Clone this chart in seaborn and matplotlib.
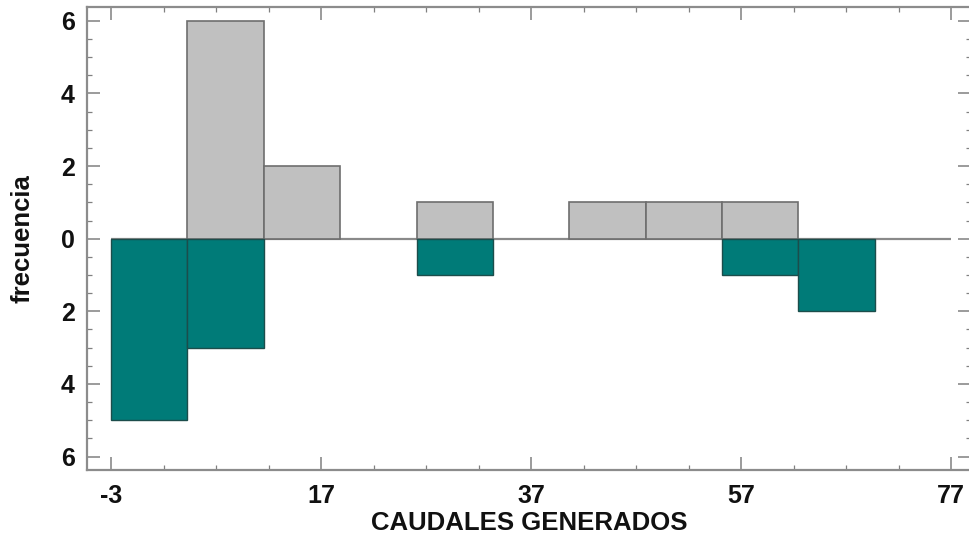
import numpy as np
import pandas as pd
import matplotlib
matplotlib.use("Agg")
import matplotlib.pyplot as plt
from matplotlib.ticker import MultipleLocator, FixedLocator
import seaborn as sns

# ---- data ----
x_min, x_max, n_bins = -3, 77, 11              # 11 bins from -3 to 77
upper_counts = [0, 6, 2, 0, 1, 0, 1, 1, 1, 0, 0]   # grey (above)
lower_counts = [5, 3, 0, 0, 1, 0, 0, 0, 1, 2, 0]   # teal (below)
x_ticks = [-3, 17, 37, 57, 77]
y_ticks = [-6, -4, -2, 0, 2, 4, 6]
y_tick_labels = ["6", "4", "2", "0", "2", "4", "6"]
x_label = "CAUDALES GENERADOS"
y_label = "frecuencia"

bin_edges = np.linspace(x_min, x_max, n_bins + 1)
centers = (bin_edges[:-1] + bin_edges[1:]) / 2
df_up = pd.DataFrame({"x": centers, "w": np.array(upper_counts, dtype=float)})
df_lo = pd.DataFrame({"x": centers, "w": -np.array(lower_counts, dtype=float)})

sns.set_theme(style="white")
plt.rcParams["font.family"] = ["Liberation Sans", "DejaVu Sans"]
plt.rcParams["font.weight"] = "bold"

W, H = 969, 544
fig = plt.figure(figsize=(W / 100, H / 100), dpi=100)
ax = fig.add_axes([87 / W, 1 - 470 / H, (971 - 87) / W, (470 - 7) / H])

grey_fill = "#c0c0c0"
grey_edge = "#6e6e6e"
teal = "#007b78"

sns.histplot(data=df_up, x="x", weights="w", bins=n_bins, binrange=(x_min, x_max),
             ax=ax, color=grey_fill, edgecolor=grey_edge, linewidth=1.2, alpha=1)
sns.histplot(data=df_lo, x="x", weights="w", bins=n_bins, binrange=(x_min, x_max),
             ax=ax, color=teal, edgecolor="#1c4d4b", linewidth=1.0, alpha=1)

# hide zero-height bars
for p in ax.patches:
    if abs(p.get_height()) < 1e-9:
        p.set_visible(False)

ax.hlines(0, bin_edges[0], bin_edges[-1], color="#8a8a8a", lw=1.6, zorder=0.5)

ax.set_xlim(-5.29, 78.9)
ax.set_ylim(-6.37, 6.38)

ax.xaxis.set_major_locator(FixedLocator(x_ticks))
ax.xaxis.set_minor_locator(MultipleLocator(5, offset=2))
ax.yaxis.set_major_locator(FixedLocator(y_ticks))
ax.yaxis.set_minor_locator(MultipleLocator(0.5))
ax.set_xticklabels([str(v) for v in x_ticks])
ax.set_yticklabels(y_tick_labels)

spine_col = "#8c8c8c"
for s in ax.spines.values():
    s.set_color(spine_col)
    s.set_linewidth(1.6)
    s.set_visible(True)

ax.tick_params(which="both", direction="in", top=True, right=True,
               bottom=True, left=True, color="#808080")
ax.tick_params(which="major", length=9.5, width=1.1, labelsize=18,
               labelcolor="#111111")
ax.tick_params(which="minor", length=3.6, width=0.9)
ax.tick_params(axis="x", which="major", pad=10)
ax.tick_params(axis="y", which="major", pad=9)
for lab in ax.get_xticklabels() + ax.get_yticklabels():
    lab.set_fontweight("bold")

ax.set_xlabel(x_label, fontsize=18.5, fontweight="bold", color="#111111", labelpad=2)
ax.set_ylabel(y_label, fontsize=18.5, fontweight="bold", color="#111111", labelpad=19)

fig.savefig("out.png", dpi=100, facecolor="white")
